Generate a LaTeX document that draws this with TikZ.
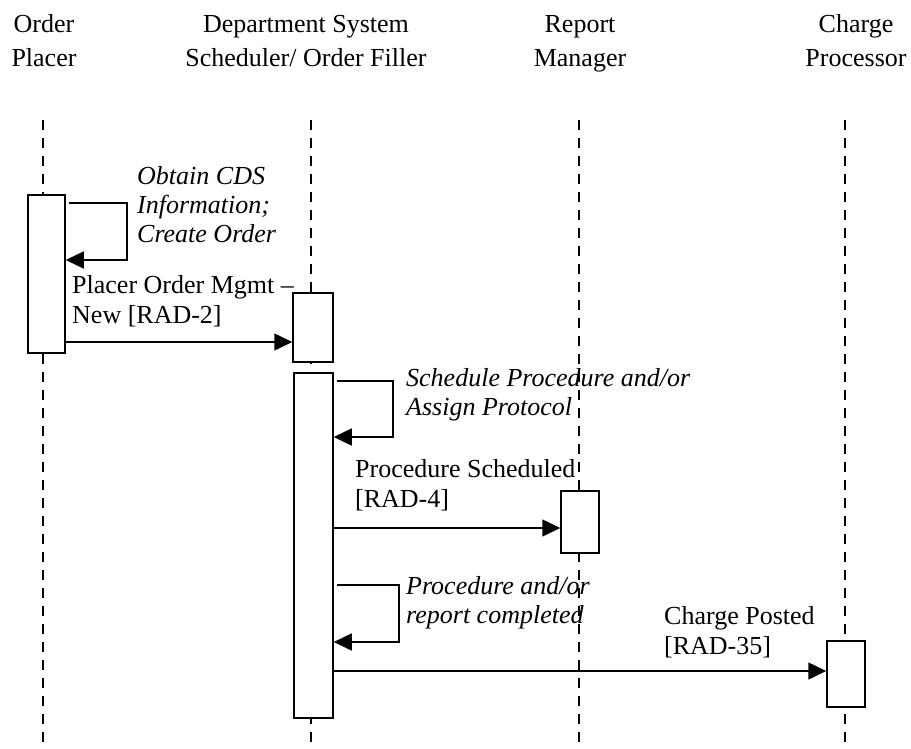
\documentclass[tikz,border=0pt]{standalone}
\usepackage{fontspec}
\setmainfont{Liberation Serif}
\usetikzlibrary{arrows.meta}

\tikzset{
	lifeline/.style={line width=1.3pt,dash pattern=on 10pt off 8pt},
	actbox/.style={draw,line width=1.5pt,fill=white,inner sep=0pt},
	msg/.style={line width=1.5pt,-{Triangle[length=18pt,width=17pt]}},
	head/.style={align=center,inner sep=0pt,anchor=base,font=\fontsize{26}{34}\selectfont},
	lbl/.style={align=left,inner sep=0pt,anchor=base west,font=\fontsize{26}{30}\selectfont},
	note/.style={align=left,inner sep=0pt,anchor=base west,font=\fontsize{26}{29}\selectfont\itshape}
}

\begin{document}
\begin{tikzpicture}[x=1pt,y=-1pt]

			\useasboundingbox (0,0) rectangle (911,748);

			\coordinate (OPtop) at (43,120);
			\coordinate (OPbot) at (43,748);
			\coordinate (DStop) at (311,120);
			\coordinate (DSbot) at (311,748);
			\coordinate (RMtop) at (579,120);
			\coordinate (RMbot) at (579,748);
			\coordinate (CPtop) at (845,120);
			\coordinate (CPbot) at (845,748);

			\draw[lifeline] (OPtop) -- (OPbot);
			\draw[lifeline] (DStop) -- (DSbot);
			\draw[lifeline] (RMtop) -- (RMbot);
			\draw[lifeline] (CPtop) -- (CPbot);

			\node[head] (hOP) at (44,66) {Order\\Placer};
			\node[head] (hDS) at (306,66) {Department System\\Scheduler/ Order Filler};
			\node[head] (hRM) at (580,66) {Report\\Manager};
			\node[head] (hCP) at (856,66) {Charge\\Processor};

			\node[actbox,minimum width=37pt,minimum height=158pt] (opAct) at (46.5,274) {};
			\node[actbox,minimum width=40pt,minimum height=69pt] (dsAct1) at (313,327.5) {};
			\node[actbox,minimum width=39pt,minimum height=345pt] (dsAct2) at (313.5,545.5) {};
			\node[actbox,minimum width=38pt,minimum height=62pt] (rmAct) at (580,522) {};
			\node[actbox,minimum width=38pt,minimum height=66pt] (cpAct) at (846,674) {};

			\coordinate (L1a) at (127,203);
			\coordinate (L1b) at (127,260);
			\coordinate (L2a) at (393,381);
			\coordinate (L2b) at (393,437);
			\coordinate (L3a) at (399,585);
			\coordinate (L3b) at (399,642);
			\coordinate (M1) at (0,342);
			\coordinate (M2) at (0,528);
			\coordinate (M3) at (0,671);

			\draw[msg,shorten <=3pt] (opAct.east |- L1a) -- (L1a) -- (L1b) -- (opAct.east |- L1b);
			\draw[msg] (opAct.east |- M1) -- (dsAct1.west |- M1);
			\draw[msg,shorten <=3pt] (dsAct2.east |- L2a) -- (L2a) -- (L2b) -- (dsAct2.east |- L2b);
			\draw[msg] (dsAct2.east |- M2) -- (rmAct.west |- M2);
			\draw[msg,shorten <=3pt] (dsAct2.east |- L3a) -- (L3a) -- (L3b) -- (dsAct2.east |- L3b);
			\draw[msg] (dsAct2.east |- M3) -- (cpAct.west |- M3);

			\node[note] (nCDS) at (137,242) {Obtain CDS\\Information;\\Create Order};
			\node[lbl] (nRAD2) at (72,323) {Placer Order Mgmt --\\New [RAD-2]};
			\node[note] (nSched) at (406,415) {Schedule Procedure and/or\\Assign Protocol};
			\node[lbl] (nRAD4) at (355,507) {Procedure Scheduled\\{}[RAD-4]};
			\node[note] (nDone) at (406,623) {Procedure and/or\\report completed};
			\node[lbl] (nRAD35) at (664,654) {Charge Posted\\{}[RAD-35]};
		\end{tikzpicture}
\end{document}
